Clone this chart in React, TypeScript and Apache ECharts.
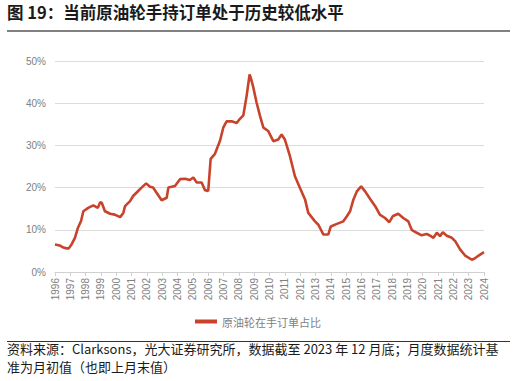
import React, { useEffect, useRef } from "react";
import * as echarts from "echarts";

const years: number[] = [
  1996.0, 1996.3, 1996.55, 1996.76, 1996.9, 1997.09, 1997.3, 1997.5, 1997.7, 1997.85,
  1998.17, 1998.5, 1998.8, 1998.94, 1999.05, 1999.26, 1999.6, 1999.9, 2000.25, 2000.46,
  2000.57, 2000.9, 2001.1, 2001.43, 2001.65, 2001.95, 2002.2, 2002.4, 2002.63, 2002.96,
  2003.29, 2003.4, 2003.62, 2003.83, 2004.16, 2004.49, 2004.8, 2005.03, 2005.25, 2005.57,
  2005.79, 2006.0, 2006.16, 2006.44, 2006.77, 2006.99, 2007.2, 2007.53, 2007.86, 2008.07,
  2008.29, 2008.51, 2008.7, 2008.77, 2008.94, 2009.16, 2009.38, 2009.6, 2009.92, 2010.25,
  2010.57, 2010.79, 2011.0, 2011.33, 2011.66, 2011.99, 2012.32, 2012.53, 2012.97, 2013.19,
  2013.51, 2013.84, 2014.0, 2014.4, 2014.82, 2015.05, 2015.26, 2015.48, 2015.7, 2015.98,
  2016.24, 2016.57, 2016.9, 2017.2, 2017.54, 2017.82, 2018.04, 2018.4, 2018.73, 2019.06,
  2019.28, 2019.61, 2019.93, 2020.26, 2020.48, 2020.7, 2020.92, 2021.13, 2021.31, 2021.57,
  2021.9, 2022.12, 2022.45, 2022.77, 2023.21, 2023.43, 2023.65, 2024.0,
];

const shares: number[] = [
  6.5, 6.3, 5.8, 5.6, 5.6, 6.6, 8.1, 10.5, 12.1, 14.4,
  15.2, 15.8, 15.2, 16.5, 16.4, 14.4, 13.8, 13.6, 13.0, 14.0,
  15.6, 16.8, 18.0, 19.2, 20.0, 21.0, 20.2, 20.0, 18.8, 17.0,
  17.6, 20.0, 20.2, 20.4, 22.0, 22.1, 21.8, 22.4, 21.2, 21.2,
  19.4, 19.2, 26.8, 28.0, 31.1, 34.3, 35.7, 35.7, 35.3, 36.3,
  37.1, 41.8, 46.8, 46.1, 43.8, 40.1, 37.0, 34.2, 33.4, 31.0,
  31.4, 32.6, 31.4, 27.5, 22.7, 19.9, 17.2, 14.0, 12.0, 11.2,
  8.9, 8.9, 10.8, 11.4, 12.0, 13.2, 14.4, 17.2, 19.1, 20.3,
  19.1, 17.3, 15.6, 13.6, 12.8, 11.8, 13.2, 13.8, 12.8, 12.0,
  10.0, 9.3, 8.7, 9.0, 8.6, 8.1, 9.3, 8.5, 9.4, 8.6,
  8.1, 7.3, 5.3, 3.9, 2.9, 3.3, 3.9, 4.7,
];

const seriesName = "原油轮在手订单占比";
const title = "图 19：当前原油轮手持订单处于历史较低水平";
const sourceLine1 = "资料来源：Clarksons，光大证券研究所，数据截至 2023 年 12 月底；月度数据统计基";
const sourceLine2 = "准为月初值（也即上月末值）";

const CJK = '"Noto Sans CJK SC", "Noto Sans", sans-serif';
const LATIN = '"Liberation Sans", Arial, sans-serif';

export default function App() {
  const ref = useRef<HTMLDivElement>(null);
  useEffect(() => {
    document.body.style.margin = "0";
    if (!ref.current) return;
    const chart = echarts.init(ref.current, null, { renderer: "svg" });
    chart.setOption({
      animation: false,
      backgroundColor: "#ffffff",
      grid: { left: 55, right: 32, top: 61, bottom: 109 },
      xAxis: {
        type: "value",
        min: 1996,
        max: 2024,
        interval: 1,
        axisLine: { show: true, lineStyle: { color: "#d0d0d0", width: 1 } },
        axisTick: { show: true, length: 4, lineStyle: { color: "#d0d0d0" } },
        splitLine: { show: false },
        axisLabel: {
          rotate: 90,
          color: "#808080",
          fontSize: 10,
          fontFamily: LATIN,
          margin: 6,
          formatter: (v: number) => String(v),
        },
      },
      yAxis: {
        type: "value",
        min: 0,
        max: 50,
        interval: 10,
        axisLine: { show: false },
        axisTick: { show: false },
        splitLine: { lineStyle: { color: "#dcdcdc", width: 1 } },
        axisLabel: {
          color: "#808080",
          fontSize: 10,
          fontFamily: LATIN,
          margin: 9,
          formatter: "{value}%",
        },
      },
      legend: {
        show: true,
        top: 311,
        left: "center",
        itemWidth: 22,
        itemHeight: 4,
        itemGap: 6,
        textStyle: { color: "#7f7f7f", fontSize: 11, fontFamily: CJK },
        data: [{ name: seriesName, icon: "rect" }],
      },
      series: [
        {
          name: seriesName,
          type: "line",
          symbol: "none",
          data: years.map((y, i) => [y, shares[i]]),
          lineStyle: { color: "#C8432B", width: 2.6 },
          itemStyle: { color: "#C8432B" },
        },
      ],
      graphic: [
        {
          type: "text",
          left: 7,
          top: 4,
          style: {
            text: title,
            fontSize: 16.5,
            fontWeight: "bold",
            fill: "#1a1a1a",
            fontFamily: CJK,
          },
        },
        {
          type: "rect",
          shape: { x: 7, y: 30, width: 503, height: 2 },
          style: { fill: "#808080" },
        },
        {
          type: "rect",
          shape: { x: 7, y: 341, width: 503, height: 1 },
          style: { fill: "#333333" },
        },
        {
          type: "text",
          left: 7,
          top: 342,
          style: { text: sourceLine1, fontSize: 13, fill: "#1a1a1a", fontFamily: CJK },
        },
        {
          type: "text",
          left: 7,
          top: 360,
          style: { text: sourceLine2, fontSize: 13, fill: "#1a1a1a", fontFamily: CJK },
        },
      ],
    });
    return () => chart.dispose();
  }, []);
  return <div ref={ref} style={{ width: 516, height: 381 }} />;
}
